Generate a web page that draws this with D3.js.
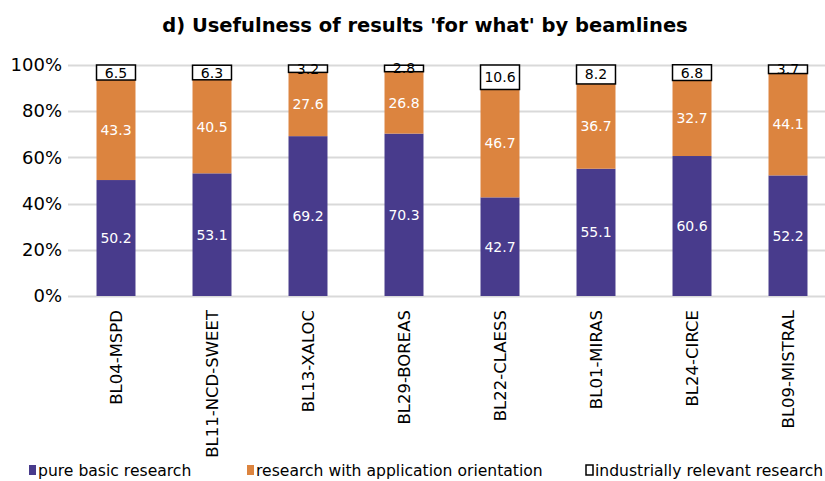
<!DOCTYPE html>
<html>
<head>
<meta charset="utf-8">
<script src="https://cdn.jsdelivr.net/npm/d3@7"></script>
<style>
  body { margin: 0; background: #fff; }
  text { font-family: "DejaVu Sans", sans-serif; }
</style>
</head>
<body>
<div id="chart-area"></div>
<script>
// data
var beamlines = ["BL04-MSPD", "BL11-NCD-SWEET", "BL13-XALOC", "BL29-BOREAS",
                 "BL22-CLAESS", "BL01-MIRAS", "BL24-CIRCE", "BL09-MISTRAL"];
var basic    = [50.2, 53.1, 69.2, 70.3, 42.7, 55.1, 60.6, 52.2];
var applied  = [43.3, 40.5, 27.6, 26.8, 46.7, 36.7, 32.7, 44.1];
var industry = [6.5, 6.3, 3.2, 2.8, 10.6, 8.2, 6.8, 3.7];
var seriesNames = ["pure basic research", "research with application orientation", "industrially relevant research"];
var yTicks = [0, 20, 40, 60, 80, 100];

var width = 825, height = 481;
var margin = { left: 68, right: -11, top: 65, bottom: 185 };

var svg = d3.select("#chart-area")
    .append("svg")
    .attr("width", width)
    .attr("height", height);

var colors = ["#483b8c", "#dc843f", "#ffffff"];

var rows = beamlines.map(function(b, i){
    return { name: b, basic: basic[i], applied: applied[i], industry: industry[i] };
});
var keys = ["basic", "applied", "industry"];
var stacked = d3.stack().keys(keys)(rows);

var x = d3.scaleBand()
    .domain(beamlines)
    .range([margin.left, width - margin.right])
    .paddingInner(0.594)
    .paddingOuter(0.297);
var y = d3.scaleLinear()
    .domain([0, 100])
    .range([height - margin.bottom, margin.top]);

// title
svg.append("text")
    .attr("x", 425)
    .attr("y", 32)
    .attr("text-anchor", "middle")
    .attr("font-size", "19.5px")
    .attr("font-weight", "bold")
    .text("d) Usefulness of results 'for what' by beamlines");

// gridlines
svg.append("g").selectAll("line")
    .data(yTicks)
    .enter().append("line")
    .attr("x1", margin.left)
    .attr("x2", width)
    .attr("y1", function(d){ return Math.round(y(d)) + 0.5; })
    .attr("y2", function(d){ return Math.round(y(d)) + 0.5; })
    .attr("stroke", "#d9d9d9")
    .attr("stroke-width", 2);

// y axis
var yAxisCall = d3.axisLeft(y)
    .tickValues(yTicks)
    .tickSize(0)
    .tickPadding(6)
    .tickFormat(function(d){ return d + "%"; });
var yAxis = svg.append("g")
    .attr("transform", "translate(" + margin.left + ",0)")
    .call(yAxisCall);
yAxis.select(".domain").remove();
yAxis.selectAll("text")
    .attr("font-size", "18px")
    .attr("fill", "#000")
    .attr("font-family", "'DejaVu Sans', sans-serif");

// bars
var layers = svg.append("g").selectAll("g")
    .data(stacked)
    .enter().append("g")
    .attr("fill", function(d, i){ return colors[i]; });

layers.selectAll("rect")
    .data(function(d){ return d; })
    .enter().append("rect")
    .attr("x", function(d){ return x(d.data.name); })
    .attr("width", x.bandwidth())
    .attr("y", function(d){ return y(d[1]); })
    .attr("height", function(d){ return y(d[0]) - y(d[1]); })
    .attr("stroke", function(d){ return this.parentNode.__data__.key === "industry" ? "#000" : "none"; })
    .attr("stroke-width", 1.5);

// labels
layers.selectAll("text")
    .data(function(d){ return d.map(function(v){ v.key = d.key; return v; }); })
    .enter().append("text")
    .attr("x", function(d){ return x(d.data.name) + x.bandwidth() / 2; })
    .attr("y", function(d){ return (y(d[0]) + y(d[1])) / 2 + 5; })
    .attr("text-anchor", "middle")
    .attr("font-size", "14px")
    .attr("fill", function(d){ return d.key === "industry" ? "#000" : "#fff"; })
    .text(function(d){ return d.data[d.key].toFixed(1); });

// x labels
svg.append("g").selectAll("text")
    .data(beamlines)
    .enter().append("text")
    .attr("transform", function(d){
        return "translate(" + (x(d) + x.bandwidth() / 2 + 6) + "," + 310 + ") rotate(-90)";
    })
    .attr("text-anchor", "end")
    .attr("font-size", "16.5px")
    .text(function(d){ return d; });

// legend
var legendX = [29, 247, 586];
var legend = svg.append("g").selectAll("g")
    .data(seriesNames)
    .enter().append("g")
    .attr("transform", function(d, i){ return "translate(" + legendX[i] + ",465)"; });
legend.append("rect")
    .attr("width", 7)
    .attr("height", 10)
    .attr("fill", function(d, i){ return colors[i]; })
    .attr("stroke", function(d, i){ return i === 2 ? "#000" : "none"; })
    .attr("stroke-width", 1.5);
legend.append("text")
    .attr("x", 9)
    .attr("y", 11)
    .attr("font-size", "15.6px")
    .text(function(d){ return d; });
</script>
</body>
</html>
